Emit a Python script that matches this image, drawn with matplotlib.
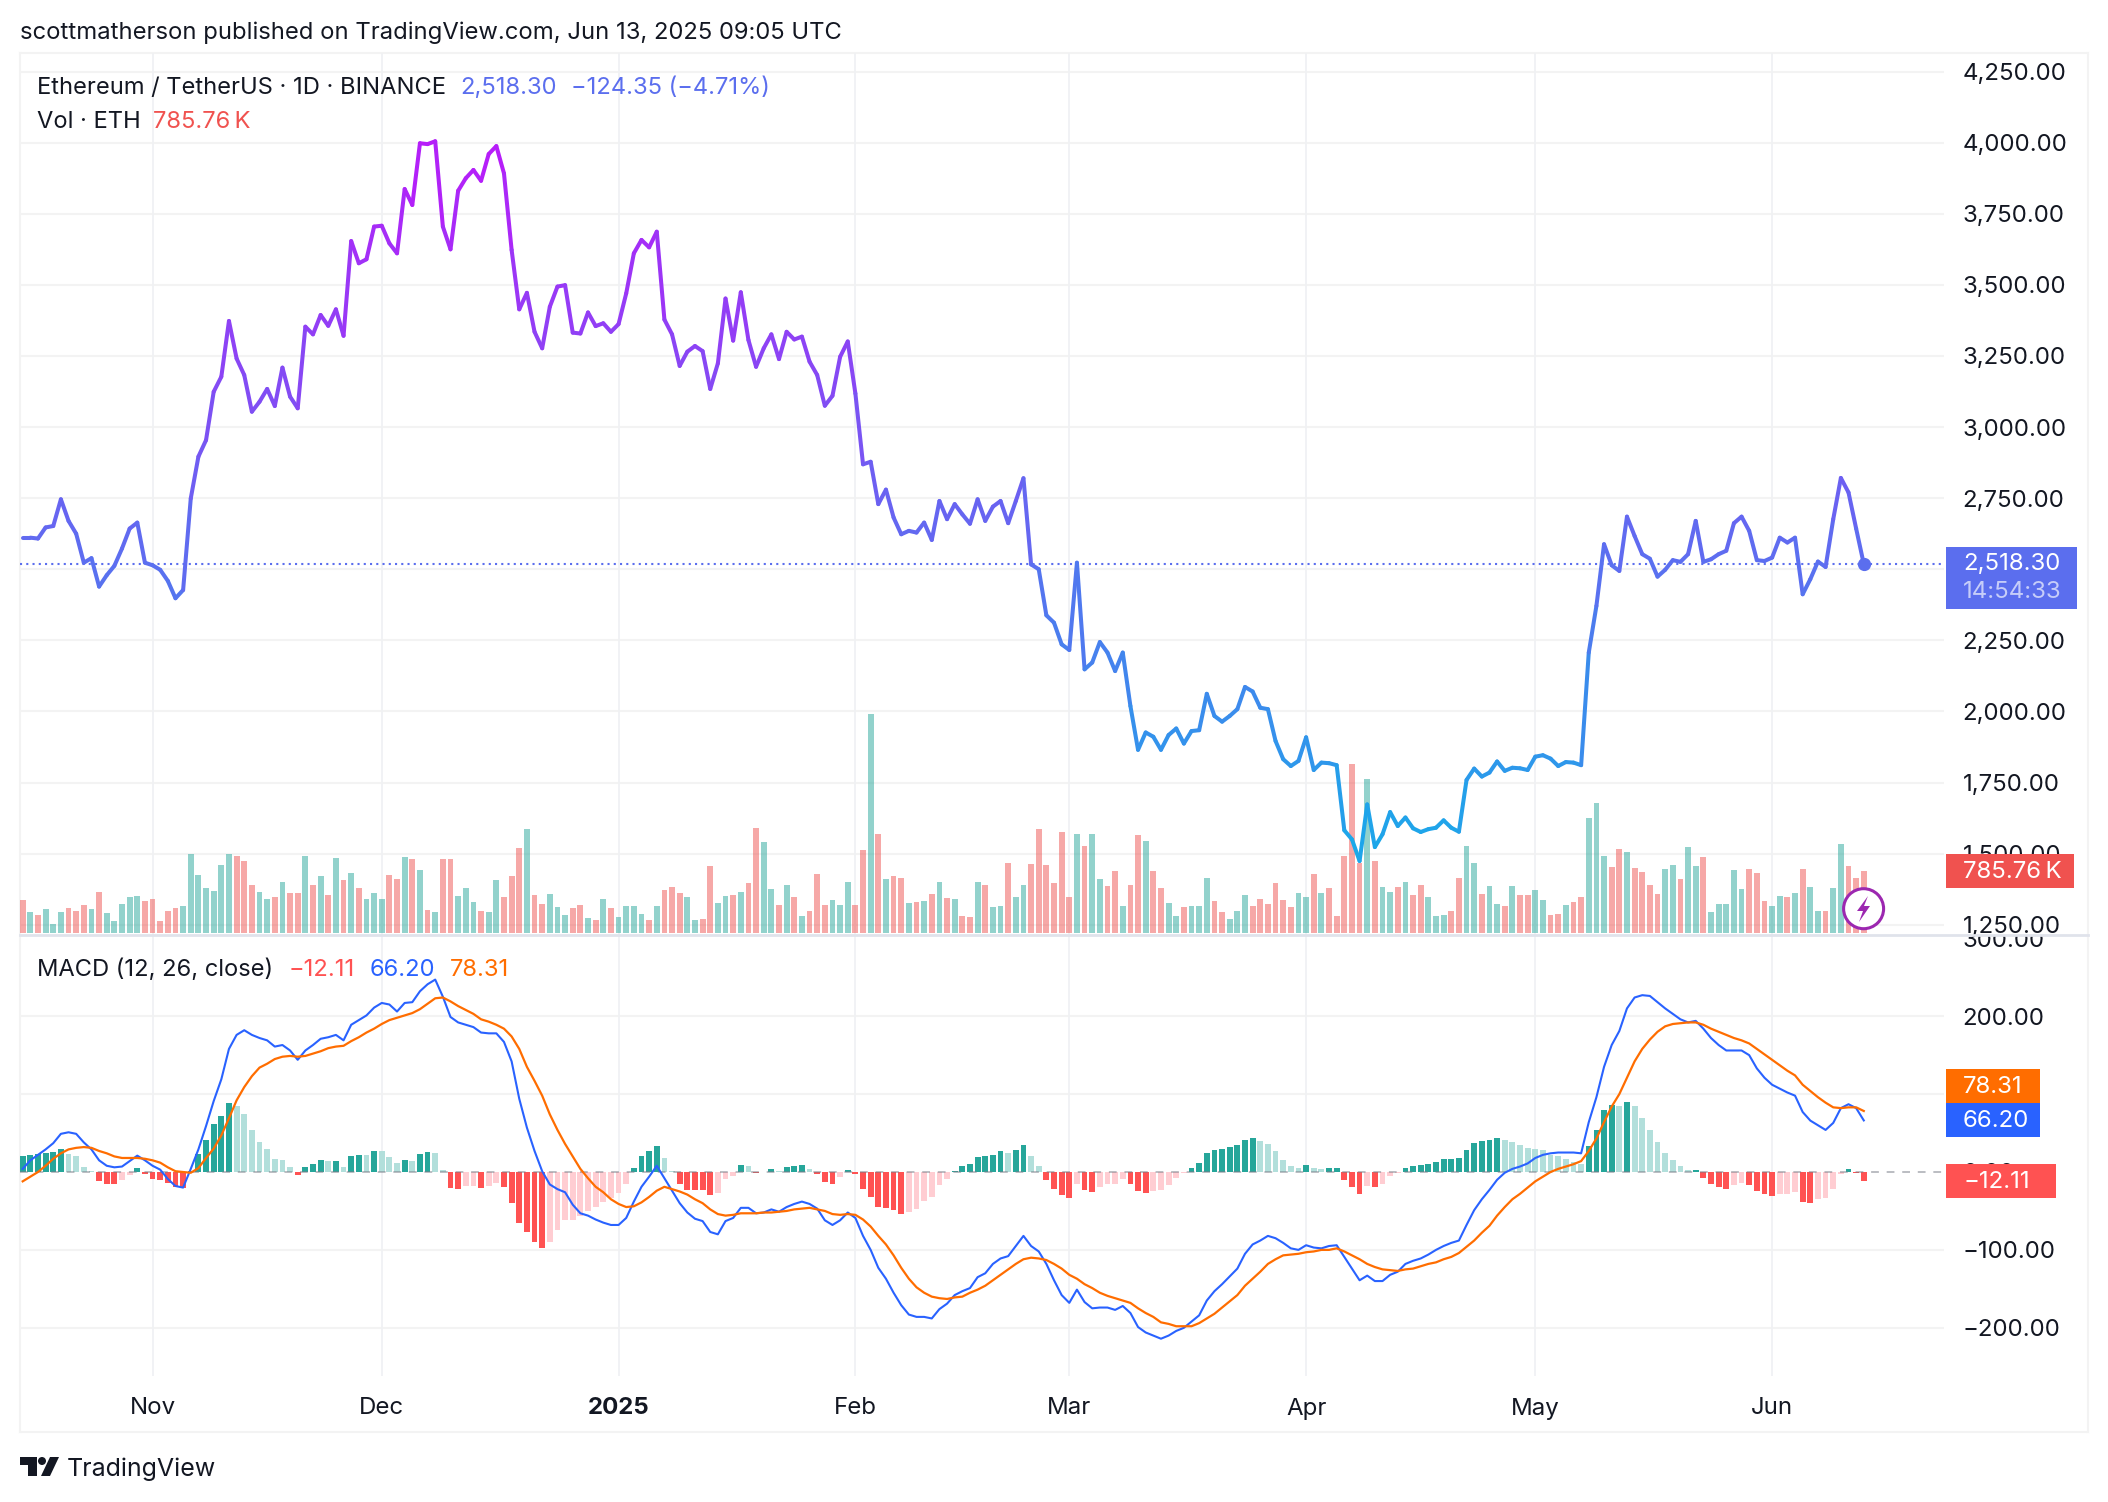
# -*- coding: utf-8 -*-
import numpy as np
import matplotlib
matplotlib.use("Agg")
import matplotlib.pyplot as plt
from matplotlib.collections import LineCollection
from matplotlib.colors import LinearSegmentedColormap, Normalize
from matplotlib.patches import Rectangle, Circle, Polygon
from matplotlib.transforms import Bbox, TransformedBbox

plt.rcParams["font.family"] = ["Inter", "DejaVu Sans"]

W, H = 2108, 1502

# ----------------------------
# DATA (daily, 15 Oct 2024 - 13 Jun 2025)
# ----------------------------
prices = [
    2611, 2611, 2608, 2647, 2652, 2746, 2670, 2625, 2523, 2539,
    2439, 2479, 2512, 2573, 2643, 2664, 2523, 2514, 2498, 2459,
    2398, 2427, 2749, 2896, 2954, 3124, 3177, 3373, 3241, 3183,
    3054, 3089, 3134, 3074, 3209, 3107, 3066, 3353, 3326, 3394,
    3356, 3414, 3321, 3654, 3576, 3590, 3705, 3708, 3646, 3611,
    3837, 3781, 3998, 3995, 4005, 3705, 3625, 3831, 3875, 3904,
    3866, 3960, 3988, 3892, 3623, 3414, 3472, 3335, 3277, 3423,
    3494, 3499, 3332, 3329, 3403, 3355, 3365, 3335, 3362, 3470,
    3611, 3658, 3632, 3687, 3378, 3326, 3215, 3265, 3285, 3267,
    3134, 3224, 3452, 3304, 3474, 3306, 3212, 3277, 3326, 3239,
    3335, 3308, 3318, 3230, 3183, 3075, 3110, 3247, 3301, 3118,
    2869, 2878, 2729, 2780, 2682, 2623, 2635, 2629, 2664, 2603,
    2740, 2676, 2729, 2693, 2660, 2746, 2670, 2720, 2740, 2662,
    2740, 2820, 2517, 2500, 2338, 2312, 2236, 2216, 2523, 2148,
    2172, 2244, 2207, 2142, 2207, 2019, 1865, 1926, 1911, 1865,
    1917, 1940, 1887, 1931, 1934, 2062, 1984, 1964, 1984, 2008,
    2086, 2070, 2013, 2008, 1896, 1832, 1808, 1826, 1909, 1794,
    1820, 1818, 1811, 1582, 1550, 1474, 1673, 1523, 1568, 1646,
    1597, 1627, 1589, 1576, 1586, 1591, 1617, 1591, 1577, 1759,
    1799, 1771, 1785, 1824, 1791, 1802, 1800, 1794, 1841, 1846,
    1834, 1808, 1822, 1820, 1811, 2207, 2371, 2588, 2514, 2494,
    2685, 2617, 2553, 2537, 2474, 2498, 2532, 2526, 2553, 2670,
    2526, 2535, 2553, 2565, 2662, 2685, 2635, 2532, 2529, 2541,
    2611, 2594, 2611, 2412, 2465, 2527, 2508, 2676, 2821, 2770,
    2643, 2518.30,
]

# volume in thousand ETH
volumes = [
    416, 263, 225, 302, 110, 263, 314, 276, 353, 302,
    518, 251, 149, 365, 455, 467, 404, 429, 149, 276,
    314, 340, 1003, 735, 570, 531, 863, 1003, 978, 914,
    608, 519, 429, 455, 646, 506, 506, 978, 608, 722,
    480, 952, 672, 761, 570, 429, 506, 429, 735, 684,
    965, 939, 799, 289, 264, 939, 939, 468, 570, 391,
    276, 264, 672, 455, 723, 1080, 1322, 480, 366, 493,
    327, 225, 315, 353, 187, 162, 429, 315, 200, 340,
    340, 238, 162, 340, 544, 582, 506, 455, 162, 174,
    850, 378, 468, 480, 519, 633, 1335, 1156, 557, 353,
    608, 455, 213, 276, 748, 353, 417, 353, 646, 353,
    1054, 2788, 1258, 684, 723, 697, 378, 391, 404, 493,
    646, 442, 429, 213, 200, 646, 608, 327, 340, 888,
    455, 608, 876, 1322, 863, 633, 1284, 455, 1258, 1105,
    1258, 684, 595, 786, 340, 608, 1245, 1169, 786, 570,
    378, 213, 327, 340, 340, 697, 404, 264, 174, 276,
    480, 340, 429, 366, 633, 417, 327, 506, 455, 748,
    506, 570, 213, 978, 2150, 888, 1959, 914, 582, 519,
    582, 646, 480, 608, 455, 213, 225, 276, 697, 1105,
    888, 493, 595, 366, 340, 595, 480, 480, 544, 417,
    225, 238, 353, 391, 455, 1462, 1653, 978, 837, 1067,
    1029, 825, 774, 608, 493, 812, 863, 684, 1092, 850,
    965, 264, 366, 366, 799, 557, 812, 761, 404, 340,
    468, 455, 506, 812, 582, 276, 276, 570, 1131, 850,
    697, 785.76,
]

macd_line = [
    4, 15, 22, 29, 37, 49, 51, 49, 38, 29,
    15, 8, 6, 7, 14, 21, 15, 8, 3, -9,
    -18, -20, 4, 29, 59, 91, 119, 158, 176, 182,
    176, 172, 169, 161, 163, 156, 144, 156, 163, 171,
    173, 176, 169, 189, 195, 201, 211, 217, 215, 206,
    217, 218, 232, 241, 247, 225, 199, 192, 189, 186,
    179, 178, 178, 167, 142, 94, 57, 27, 1, -16,
    -22, -26, -42, -53, -56, -61, -65, -68, -68, -59,
    -38, -19, -6, 8, -8, -24, -40, -52, -60, -63,
    -77, -80, -63, -59, -46, -46, -53, -52, -48, -51,
    -45, -41, -38, -41, -47, -62, -68, -62, -52, -59,
    -82, -100, -123, -137, -155, -171, -183, -186, -186, -188,
    -176, -169, -158, -153, -149, -135, -130, -118, -111, -108,
    -95, -82, -95, -102, -118, -139, -158, -168, -151, -167,
    -175, -174, -174, -177, -172, -181, -199, -206, -210, -214,
    -210, -204, -200, -192, -184, -165, -153, -144, -134, -124,
    -105, -93, -88, -82, -85, -91, -98, -100, -94, -97,
    -98, -95, -94, -109, -124, -139, -133, -140, -140, -132,
    -128, -118, -114, -111, -106, -100, -95, -91, -88, -68,
    -49, -35, -23, -10, -1, 4, 7, 11, 18, 22,
    24, 25, 25, 25, 24, 64, 96, 135, 163, 181,
    210, 224, 227, 226, 218, 210, 203, 196, 192, 194,
    184, 172, 163, 156, 156, 156, 150, 133, 121, 112,
    107, 102, 98, 77, 66, 60, 54, 63, 82, 87,
    82, 66.20,
]

signal_line = [
    -12, -6, 0, 8, 17, 24, 29, 31, 32, 31,
    27, 24, 20, 18, 18, 18, 17, 15, 12, 6,
    1, 0, -1, 5, 18, 30, 47, 69, 92, 109,
    123, 134, 139, 145, 148, 149, 148, 149, 152, 155,
    159, 161, 162, 168, 173, 179, 184, 190, 195, 198,
    201, 204, 209, 216, 223, 224, 219, 213, 208, 203,
    196, 193, 189, 184, 174, 158, 135, 117, 98, 74,
    54, 36, 20, 4, -8, -19, -26, -35, -41, -45,
    -44, -39, -32, -24, -19, -22, -25, -29, -35, -40,
    -48, -54, -56, -55, -53, -53, -53, -52, -52, -51,
    -50, -48, -47, -46, -48, -50, -54, -55, -54, -55,
    -61, -70, -82, -93, -107, -123, -137, -148, -155, -160,
    -162, -163, -161, -160, -155, -151, -146, -139, -132, -125,
    -118, -112, -110, -111, -113, -118, -124, -132, -137, -144,
    -149, -155, -159, -162, -165, -168, -175, -181, -186, -193,
    -195, -198, -198, -198, -194, -188, -182, -174, -166, -158,
    -146, -137, -128, -118, -112, -107, -106, -105, -103, -102,
    -100, -100, -98, -102, -107, -112, -118, -122, -125, -126,
    -127, -125, -124, -121, -118, -116, -112, -109, -104, -96,
    -88, -78, -69, -56, -45, -35, -28, -20, -12, -6,
    0, 4, 7, 10, 14, 27, 43, 64, 84, 100,
    121, 142, 158, 170, 180, 187, 190, 191, 192, 192,
    189, 184, 180, 176, 172, 169, 165, 158, 151, 144,
    137, 130, 124, 112, 104, 96, 89, 83, 82, 83,
    83, 78.31,
]

histogram = [
    20, 22, 23.5, 25, 25.5, 30, 23.5, 20, 7, 1.4,
    -11, -15, -15.2, -10.6, -3.7, 4.6, -3.2, -8.8, -10.6, -14.7,
    -19.4, -20, 1, 23, 41.5, 61, 72, 89, 85, 74,
    54, 38, 30, 16.6, 15, 7, -4, 7, 10.6, 15.7,
    13.8, 14.3, 7, 20.7, 22, 21.8, 26.7, 26.6, 19, 12,
    15.7, 13.8, 23.5, 25.8, 25, 2.8, -20.3, -21.2, -18.4, -18,
    -20.3, -17.5, -13.8, -19.4, -39.6, -66, -77, -90, -97, -90,
    -75, -62, -61.5, -56, -50, -45, -38, -33, -27, -15,
    4.6, 20, 26.7, 33.6, 17.5, 1, -15.7, -22.6, -22.7, -23,
    -29, -26.7, -9.2, -4.6, 9, 7.4, -1, -0.5, 3.7, 1,
    6.5, 7.4, 8.8, 3.7, -2, -12.4, -15, -7, 2.3, -3.2,
    -21.7, -31.8, -44.7, -45.6, -48.8, -53.5, -51, -47, -37, -32,
    -16.6, -8.8, 1.4, 7.4, 10.6, 19, 20, 21.7, 27, 25,
    28.6, 35, 20, 8.3, -10, -21.7, -30, -34, -15, -23.5,
    -25.3, -19.4, -16, -15, -8.8, -15, -25, -26.7, -24, -23,
    -16.6, -7.4, -1, 5.5, 12, 25, 28.6, 30, 32.7, 35,
    41.5, 44, 39.6, 36.4, 26.7, 15.7, 7.8, 5.5, 9.2, 4.6,
    3.7, 4.6, 5.5, -10, -19.4, -28, -18, -19.4, -15.7, -5.5,
    -1.8, 5.5, 7.4, 9.2, 10, 13.4, 17, 17.2, 17.4, 28.6,
    37.3, 40, 41.5, 44, 41.5, 38.7, 35, 31, 29.5, 28,
    22, 20.7, 17, 13, 10.6, 33.6, 54, 80, 86.6, 85,
    90, 85, 69, 54, 38, 25, 15.7, 7.4, 2.3, 2.8,
    -7.4, -15, -19.4, -21.7, -16.6, -14.7, -17, -24, -28.6, -31,
    -28.6, -27.6, -26, -38, -39.6, -35, -34, -21.7, -3, 3.7,
    -1.4, -12.11,
]

month_labels = ["Nov", "Dec", "2025", "Feb", "Mar", "Apr", "May", "Jun"]
month_index = [17, 47, 78, 109, 137, 168, 198, 229]

price_ticks = [4250, 4000, 3750, 3500, 3250, 3000, 2750, 2500, 2250, 2000, 1750, 1500, 1250]
price_tick_labels = ["4,250.00", "4,000.00", "3,750.00", "3,500.00", "3,250.00", "3,000.00", "2,750.00",
                     "2,500.00", "2,250.00", "2,000.00", "1,750.00", "1,500.00", "1,250.00"]
macd_ticks = [300, 200, 100, 0, -100, -200]
macd_tick_labels = ["300.00", "200.00", "100.00", "0.00", "\u2212100.00", "\u2212200.00"]

# ----------------------------
# COLOURS
# ----------------------------
GRID = "#F3F3F3"
TEXT = "#131722"
UP = "#26A69A"
DOWN = "#EF5350"
BLUE = "#2962FF"
ORANGE = "#FF6D00"
RED = "#FF5252"
LAST = "#5B6EEE"
VOLTAG = "#F0524F"

# ----------------------------
# HELPERS
# ----------------------------
def fx(px):
    return px / W

def fy(py):
    return 1 - py / H

def pane(x0, y0, x1, y1):
    return fig.add_axes([fx(x0), fy(y1), (x1 - x0) / W, (y1 - y0) / H])

def put_text(px, py, s, color=TEXT, size=17.05, ha="left", **kw):
    return fig.text(fx(px), fy(py), s, color=color, fontsize=size, ha=ha, va="center", zorder=8, **kw)

def tag(x0, y0, x1, y1, color):
    fig.add_artist(Rectangle((fx(x0), fy(y1)), (x1 - x0) / W, (y1 - y0) / H,
                             transform=fig.transFigure, facecolor=color, edgecolor="none", zorder=7))

def clean(ax):
    ax.patch.set_visible(False)
    for s in ax.spines.values():
        s.set_visible(False)
    ax.set_xlim(-0.353, 251.5)
    ax.tick_params(axis="both", length=0)

def clip_label(t, y0, y1):
    box = Bbox([[0, fy(y1)], [1, fy(y0)]])
    t.set_clip_box(TransformedBbox(box, fig.transFigure))
    t.set_clip_on(True)

# ----------------------------
# FIGURE
# ----------------------------
fig = plt.figure(figsize=(W / 100, H / 100), dpi=100, facecolor="white")

days = np.arange(len(prices))
prices_arr = np.array(prices, dtype=float)

# outer frame
for (x0, y0, x1, y1) in [(20, 53, 2088, 53), (20, 1432, 2088, 1432), (20, 53, 20, 1432), (2088, 53, 2088, 1432)]:
    fig.add_artist(plt.Line2D([fx(x0), fx(x1)], [fy(y0), fy(y1)], color=GRID, lw=1.5, zorder=0))

# --- price pane ---
ax_vol = pane(20, 53, 1944, 935)
ax_price = ax_vol.twinx()
ax_vol.set_zorder(1)
ax_price.set_zorder(2)
for ax in (ax_vol, ax_price):
    clean(ax)

ax_vol.set_ylim(-29, 11216)
ax_vol.set_yticks([])
ax_vol.set_xticks([])

ax_price.set_ylim(1213.8, 4315.4)
ax_price.yaxis.tick_right()
ax_price.set_yticks(price_ticks)
ax_price.set_yticklabels(price_tick_labels, fontsize=17.3, color=TEXT)
ax_price.tick_params(axis="y", pad=13.5)
for lab in ax_price.get_yticklabels():
    clip_label(lab, 40, 935)

for p in price_ticks:
    ax_vol.axhline(ax_vol.get_ylim()[0] + (p - 1213.8) * (11216 + 29) / (4315.4 - 1213.8),
                   color=GRID, lw=1.5, zorder=0)
for m in month_index:
    ax_vol.axvline(m, color="#F0F1F4", lw=1.3, zorder=0)

vol_colors = [DOWN] + [UP if prices[i] >= prices[i - 1] else DOWN for i in range(1, len(prices))]
ax_vol.bar(days, volumes, width=0.76, color=vol_colors, alpha=0.5, zorder=1)

# price line with the vertical purple-to-cyan gradient
gradient = LinearSegmentedColormap.from_list("eth", ["#18ABE9", "#B71DF9"])
points = np.column_stack([days, prices_arr])
segments = np.stack([points[:-1], points[1:]], axis=1)
lc = LineCollection(segments, cmap=gradient, norm=Normalize(1470, 3950), linewidths=2.9,
                    capstyle="round", joinstyle="round", zorder=3)
lc.set_array((prices_arr[:-1] + prices_arr[1:]) / 2)
ax_price.add_collection(lc)
ax_price.axhline(prices[-1], color=LAST, lw=1.5, ls=(0, (1, 2)), zorder=2)
ax_price.plot(days[-1], prices[-1], "o", color=LAST, ms=8.5, zorder=4)
ax_price.set_xticks([])

# --- MACD pane ---
ax_macd = pane(20, 936, 1944, 1375.5)
clean(ax_macd)
ax_macd.set_ylim((1172 - 1375.5) / 0.779, (1172 - 936) / 0.779)
ax_macd.yaxis.tick_right()
ax_macd.set_yticks(macd_ticks)
ax_macd.set_yticklabels(macd_tick_labels, fontsize=17.3, color=TEXT)
ax_macd.tick_params(axis="y", pad=13.5)
for lab in ax_macd.get_yticklabels():
    clip_label(lab, 936, 1500)

for v in macd_ticks[1:]:
    if v != 0:
        ax_macd.axhline(v, color=GRID, lw=1.5, zorder=0)
for m in month_index:
    ax_macd.axvline(m, color="#F0F1F4", lw=1.3, zorder=0)

hist_colors = []
for i, v in enumerate(histogram):
    prev = histogram[i - 1] if i else v - 1
    if v >= 0:
        hist_colors.append(UP if v >= prev else "#B2DFDB")
    else:
        hist_colors.append("#FFCDD2" if v >= prev else RED)
ax_macd.bar(days, histogram, width=0.76, color=hist_colors, zorder=1)
ax_macd.axhline(0, color="#787B86", lw=1.4, ls=(0, (4, 4)), alpha=0.5, zorder=2)
ax_macd.plot(days, macd_line, color=BLUE, lw=1.5, zorder=3)
ax_macd.plot(days, signal_line, color=ORANGE, lw=1.6, zorder=4)

ax_macd.set_xticks(month_index)
ax_macd.set_xticklabels([])

# month labels under the pane
for lab, m in zip(month_labels, month_index):
    px = 22.7 + 7.64 * m
    put_text(px, 1408.5, lab, size=17.3, ha="center", fontweight="bold" if lab == "2025" else "normal")

# pane separator
fig.add_artist(plt.Line2D([fx(20), fx(2088)], [fy(935), fy(935)], color="#E0E3EB", lw=2, zorder=3))

# --- legends and header ---
put_text(20, 33, "scottmatherson published on TradingView.com, Jun 13, 2025 09:05 UTC", size=17.15)

put_text(37, 88, "Ethereum / TetherUS \u00b7 1D \u00b7 BINANCE")
put_text(460, 88, "2,518.30", color=LAST)
put_text(571, 88, "\u2212124.35 (\u22124.71%)", color=LAST)
put_text(37, 122, "Vol \u00b7 ETH")
put_text(153, 122, "785.76\u2009K", color=VOLTAG)

put_text(37, 970, "MACD (12, 26, close)")
put_text(289, 970, "\u221212.11", color=RED)
put_text(370, 970, "66.20", color=BLUE)
put_text(450, 970, "78.31", color=ORANGE)

# --- value tags on the right ---
tag(1946, 547, 2077, 609, LAST)
put_text(1963, 564, "2,518.30", color="white", size=17.3)
put_text(1963, 592, "14:54:33", color="#C6CDF9", size=17.3)

tag(1946, 854, 2074, 888, VOLTAG)
put_text(1963, 872, "785.76\u2009K", color="white", size=17.3)

tag(1946, 1069, 2040, 1103, ORANGE)
put_text(1963, 1087, "78.31", color="white", size=17.3)
tag(1946, 1103, 2040, 1137, BLUE)
put_text(1963, 1121, "66.20", color="white", size=17.3)
tag(1946, 1164, 2056, 1198, RED)
put_text(1963, 1182, "\u221212.11", color="white", size=17.3)

# lightning badge
overlay = fig.add_axes([0, 0, 1, 1], zorder=5)
overlay.set_xlim(0, W)
overlay.set_ylim(H, 0)
overlay.axis("off")
overlay.patch.set_visible(False)
overlay.add_patch(Circle((1863.6, 908.7), 20, facecolor="white", edgecolor="#9C27B0", lw=2.2))
overlay.add_patch(Polygon([(1868, 896), (1857, 911), (1863, 911), (1859, 922), (1870, 906), (1864, 906)],
                          closed=True, facecolor="#9C27B0", edgecolor="none"))

# TradingView logo and word
logo = "#131722"
overlay.add_patch(Polygon([(20, 1457), (37, 1457), (37, 1476), (28, 1476), (28, 1465), (20, 1465)],
                          closed=True, facecolor=logo, edgecolor="none"))
overlay.add_patch(Circle((42, 1461), 4, facecolor=logo, edgecolor="none"))
overlay.add_patch(Polygon([(50, 1457), (59, 1457), (50, 1476), (41, 1476)],
                          closed=True, facecolor=logo, edgecolor="none"))
put_text(67, 1469, "TradingView", size=18)

fig.savefig("out.png", dpi=100, facecolor="white")
